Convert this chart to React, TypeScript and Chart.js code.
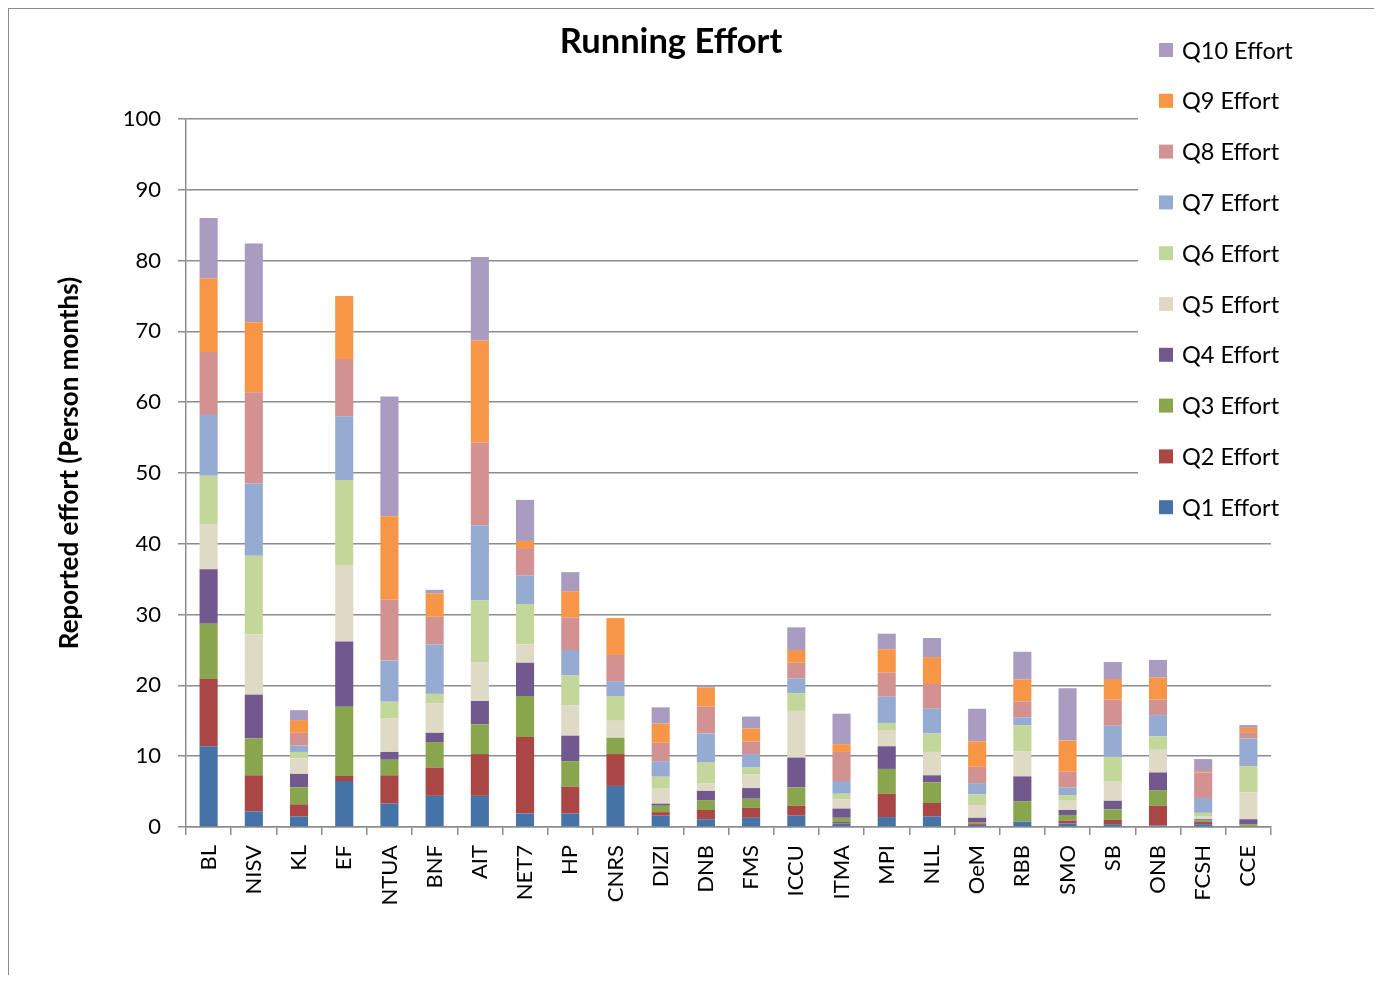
import React, { useEffect, useRef } from "react";
import { Chart, registerables } from "chart.js";

Chart.register(...registerables);

const categories = ["BL", "NISV", "KL", "EF", "NTUA", "BNF", "AIT", "NET7", "HP", "CNRS", "DIZI", "DNB", "FMS", "ICCU", "ITMA", "MPI", "NLL", "OeM", "RBB", "SMO", "SB", "ONB", "FCSH", "CCE"];

const q1 = [11.4, 2.2, 1.5, 6.5, 3.3, 4.4, 4.4, 1.9, 1.9, 5.8, 1.6, 1.1, 1.3, 1.6, 0.5, 1.4, 1.5, 0.3, 0.75, 0.5, 0.4, 0.2, 0.4, 0.1];
const q2 = [9.5, 5.1, 1.7, 0.7, 4.0, 4.0, 5.9, 10.8, 3.8, 4.5, 0.5, 1.3, 1.4, 1.4, 0.2, 3.3, 1.9, 0.2, 0, 0.4, 0.6, 2.8, 0.3, 0];
const q3 = [7.8, 5.2, 2.4, 9.8, 2.2, 3.6, 4.2, 5.8, 3.6, 2.3, 0.9, 1.4, 1.3, 2.6, 0.6, 3.5, 2.9, 0.2, 2.9, 0.8, 1.5, 2.2, 0.2, 0.3];
const q4 = [7.7, 6.2, 1.9, 9.2, 1.1, 1.3, 3.3, 4.7, 3.6, 0, 0.3, 1.3, 1.5, 4.2, 1.3, 3.2, 1.0, 0.6, 3.5, 0.7, 1.2, 2.5, 0.2, 0.7];
const q5 = [6.3, 8.5, 2.2, 10.7, 4.7, 4.2, 5.5, 2.6, 4.3, 2.4, 2.1, 1.1, 1.9, 6.6, 1.3, 2.3, 3.3, 1.8, 3.5, 1.3, 2.7, 3.2, 0.45, 3.8];
const q6 = [6.9, 11.1, 0.9, 12.1, 2.4, 1.3, 8.7, 5.7, 4.2, 3.5, 1.7, 2.9, 1.0, 2.5, 0.8, 1.0, 2.6, 1.5, 3.7, 0.8, 3.5, 1.9, 0.45, 3.7];
const q7 = [8.6, 10.2, 0.9, 9.0, 5.8, 7.0, 10.6, 4.0, 3.6, 2.1, 2.2, 4.1, 1.9, 2.1, 1.8, 3.7, 3.5, 1.6, 1.1, 1.1, 4.4, 3.0, 2.1, 3.9];
const q8 = [8.9, 12.9, 1.8, 8.1, 8.6, 3.9, 11.7, 3.9, 4.6, 3.7, 2.6, 3.8, 1.8, 2.2, 4.1, 3.4, 3.5, 2.3, 2.3, 2.2, 3.7, 2.2, 3.6, 0.9];
const q9 = [10.4, 9.9, 1.8, 8.9, 11.8, 3.3, 14.4, 1.0, 3.7, 5.2, 2.7, 2.7, 1.8, 1.8, 1.1, 3.3, 3.8, 3.6, 3.1, 4.4, 2.9, 3.1, 0.2, 0.6];
const q10 = [8.5, 11.1, 1.4, 0, 16.9, 0.5, 11.8, 5.8, 2.7, 0, 2.3, 0.3, 1.7, 3.2, 4.3, 2.2, 2.7, 4.6, 3.9, 7.4, 2.4, 2.5, 1.7, 0.4];

const seriesNames = ["Q1 Effort", "Q2 Effort", "Q3 Effort", "Q4 Effort", "Q5 Effort", "Q6 Effort", "Q7 Effort", "Q8 Effort", "Q9 Effort", "Q10 Effort"];
const seriesValues = [q1, q2, q3, q4, q5, q6, q7, q8, q9, q10];
const seriesColors = ["#4572A7", "#AA4643", "#89A54E", "#71588F", "#DFDAC5", "#C4D79B", "#95ABD2", "#D39292", "#F79646", "#AA9BC0"];

const yTicks = [0, 10, 20, 30, 40, 50, 60, 70, 80, 90, 100];

const chartTitle = "Running Effort";
const yTitle = "Reported effort (Person months)";

const FONT = "Lato, 'Open Sans', 'DejaVu Sans', sans-serif";

const overlayPlugin = {
  id: "overlay",
  afterDraw(chart: any) {
    const ctx = chart.ctx;
    ctx.save();
    // title
    ctx.fillStyle = "#000";
    ctx.font = `bold 34.5px ${FONT}`;
    ctx.textAlign = "center";
    ctx.textBaseline = "middle";
    ctx.fillText(chartTitle, 662, 33);
    // y axis title
    ctx.save();
    ctx.translate(61, 454);
    ctx.rotate(-Math.PI / 2);
    ctx.font = `bold 26px ${FONT}`;
    ctx.fillText(yTitle, 0, 0);
    ctx.restore();
    // legend background
    ctx.fillStyle = "#ffffff";
    ctx.fillRect(1129, 0, 244, 521);
    // legend items (reverse order)
    ctx.font = `23.5px ${FONT}`;
    ctx.textAlign = "left";
    const ds = chart.data.datasets;
    for (let i = ds.length - 1; i >= 0; i--) {
      const row = ds.length - 1 - i;
      const cy = 41 + row * 50.8;
      ctx.fillStyle = ds[i].backgroundColor;
      ctx.fillRect(1150, cy - 7, 14, 14);
      ctx.fillStyle = "#000";
      ctx.fillText(ds[i].label, 1173, cy + 1);
    }
    ctx.restore();
  },
};

export default function App() {
  const ref = useRef<HTMLCanvasElement>(null);

  useEffect(() => {
    document.documentElement.style.overflow = "hidden";
    const canvas = ref.current!;
    const chart = new Chart(canvas, {
      type: "bar",
      data: {
        labels: categories,
        datasets: seriesValues.map((vals, i) => ({
          label: seriesNames[i],
          data: vals,
          backgroundColor: seriesColors[i],
          borderWidth: 0,
          barPercentage: 0.4,
          categoryPercentage: 1.0,
        })),
      },
      options: {
        responsive: false,
        animation: false,
        devicePixelRatio: 1,
        layout: { padding: { left: 0, top: 110, right: 111, bottom: 48 } },
        plugins: {
          legend: { display: false },
          title: { display: false },
          tooltip: { enabled: false },
        },
        scales: {
          x: {
            stacked: true,
            afterFit: (s: any) => {
              s.height = 100;
            },
            grid: {
              offset: true,
              drawOnChartArea: false,
              drawTicks: true,
              tickLength: 8,
              color: "#8c8c8c",
              lineWidth: 1.5,
            },
            border: { display: true, color: "#8c8c8c", width: 1.5 },
            ticks: {
              autoSkip: false,
              minRotation: 90,
              maxRotation: 90,
              padding: 10,
              color: "#000",
              font: { family: FONT, size: 22 },
            },
          },
          y: {
            stacked: true,
            min: 0,
            max: 100,
            afterFit: (s: any) => {
              s.width = 177;
            },
            afterBuildTicks: (s: any) => {
              s.ticks = yTicks.map((v) => ({ value: v }));
            },
            grid: {
              drawOnChartArea: true,
              drawTicks: true,
              tickLength: 8,
              color: "#8c8c8c",
              lineWidth: 1.5,
            },
            border: { display: true, color: "#8c8c8c", width: 1.5 },
            ticks: {
              padding: 17,
              color: "#000",
              font: { family: FONT, size: 22 },
            },
            title: { display: false },
          },
        },
      },
      plugins: [overlayPlugin],
    });
    return () => chart.destroy();
  }, []);

  return (
    <div
      style={{
        width: 1373,
        height: 966,
        borderTop: "1px solid #8a8a8a",
        borderLeft: "1px solid #8a8a8a",
        background: "#fff",
      }}
    >
      <canvas ref={ref} width={1373} height={966} style={{ display: "block", width: 1373, height: 966 }} />
    </div>
  );
}
